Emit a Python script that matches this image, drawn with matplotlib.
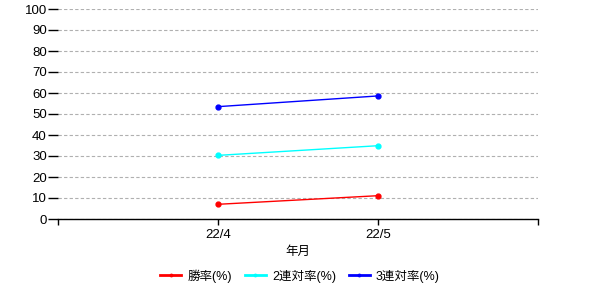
import matplotlib
matplotlib.use("Agg")
import matplotlib.pyplot as plt
from matplotlib.ticker import MultipleLocator, FixedLocator

plt.rcParams['font.family'] = ['Liberation Sans', 'Noto Sans CJK JP', 'DejaVu Sans']

categories = ["22/4", "22/5"]
win_rate = [7.0, 11.1]
quinella_rate = [30.3, 34.9]
trio_rate = [53.5, 58.6]
series_names = ["勝率(%)", "2連対率(%)", "3連対率(%)"]
colors = ["red", "cyan", "blue"]

fig = plt.figure(figsize=(6, 3), dpi=100)
ax = fig.add_axes([58/600, 1-219/300, 480/600, 210/300])

x = [1, 2]
for vals, name, c in zip([win_rate, quinella_rate, trio_rate], series_names, colors):
    ax.plot(x, vals, color=c, lw=1, marker='o', ms=3.5, label=name)

ax.set_xlim(0, 3)
ax.set_ylim(0, 100)
ax.yaxis.set_major_locator(MultipleLocator(10))
ax.set_xticks(x)
ax.set_xticklabels(categories)
ax.xaxis.set_minor_locator(FixedLocator([0, 3]))
ax.grid(axis='y', color='#b0b0b0', ls='--', lw=0.8, dashes=(3, 2))
ax.set_axisbelow(True)
for s in ['top', 'right', 'left']:
    ax.spines[s].set_visible(False)
ax.spines['bottom'].set_linewidth(1)
ax.tick_params(axis='y', length=7, width=1, labelsize=9.5, pad=1)
ax.tick_params(axis='x', which='major', length=4, width=1, labelsize=9.5, pad=3)
ax.tick_params(axis='x', which='minor', length=4, width=1)
ax.set_xlabel("年月", fontsize=9, labelpad=4)

leg = fig.legend(loc='center', bbox_to_anchor=(0.5, 1-276/300), ncol=3, frameon=False,
                 fontsize=9, handlelength=1.7, columnspacing=1.0, handletextpad=0.5,
                 markerscale=0.5)
for h in leg.legend_handles:
    h.set_linewidth(2)

fig.savefig("out.png", dpi=100)
